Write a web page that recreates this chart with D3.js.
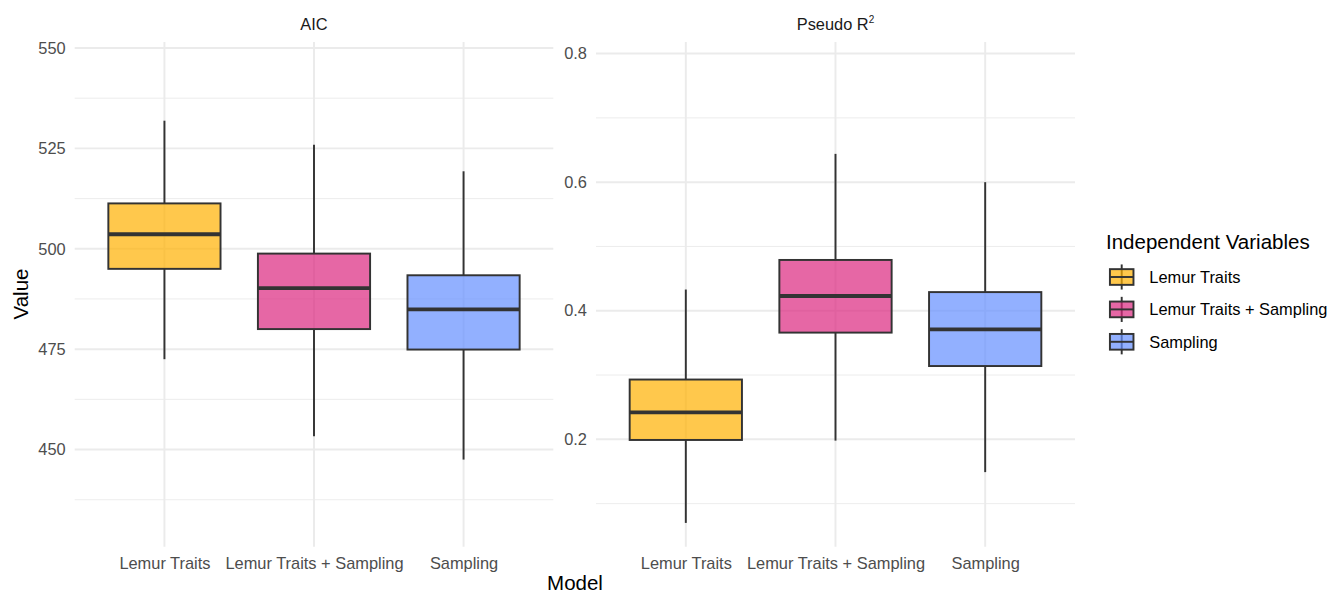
<!DOCTYPE html>
<html>
<head>
<meta charset="utf-8">
<script src="https://cdn.jsdelivr.net/npm/d3@7"></script>
<style>
  body { margin: 0; background: #fff; }
  svg { font-family: "Liberation Sans", Arial, sans-serif; }
</style>
</head>
<body>
<svg id="chart" width="1331" height="593"></svg>
<script>
// models on the x axis (also the legend entries)
const models = ["Lemur Traits", "Lemur Traits + Sampling", "Sampling"];
const fillColors = ["#FFB000", "#DC267F", "#648FFF"];

// AIC panel, box stats per model
const aicLow = [472.5, 453.3, 447.5];
const aicQ1 = [495.0, 480.0, 474.9];
const aicMedian = [503.6, 490.2, 484.9];
const aicQ3 = [511.3, 498.8, 493.4];
const aicHigh = [531.9, 525.9, 519.3];
const aicTicks = [450, 475, 500, 525, 550];
const aicMinor = [437.5, 462.5, 487.5, 512.5, 537.5];
const aicRange = [425.8, 551.5];

// Pseudo R2 panel
const r2Low = [0.070, 0.198, 0.149];
const r2Q1 = [0.199, 0.366, 0.314];
const r2Median = [0.242, 0.423, 0.371];
const r2Q3 = [0.293, 0.479, 0.429];
const r2High = [0.433, 0.644, 0.600];
const r2Ticks = [0.2, 0.4, 0.6, 0.8];
const r2Minor = [0.1, 0.3, 0.5, 0.7];
const r2Range = [0.033, 0.818];

const panelTop = 42, panelBottom = 546.7;
const gridColor = "#EBEBEB";
const lineColor = "#333333";
const smallFont = 16.4, bigFont = 20.5;

const svg = d3.select("#chart");

function makePanel(opts) {
    const g = svg.append("g");
    const x = d3.scalePoint().domain(models).range([opts.left, opts.right]).padding(0.6);
    const y = d3.scaleLinear().domain(opts.range).range([panelBottom, panelTop]);
    const boxW = x.step() * 0.75;

    // grid
    g.selectAll(".minor").data(opts.minor).enter().append("line")
        .attr("x1", opts.left).attr("x2", opts.right)
        .attr("y1", d => y(d)).attr("y2", d => y(d))
        .attr("stroke", gridColor).attr("stroke-width", 0.97);
    g.selectAll(".major").data(opts.ticks).enter().append("line")
        .attr("x1", opts.left).attr("x2", opts.right)
        .attr("y1", d => y(d)).attr("y2", d => y(d))
        .attr("stroke", gridColor).attr("stroke-width", 1.94);
    g.selectAll(".vgrid").data(models).enter().append("line")
        .attr("x1", d => x(d)).attr("x2", d => x(d))
        .attr("y1", panelTop).attr("y2", panelBottom)
        .attr("stroke", gridColor).attr("stroke-width", 1.94);

    // y axis labels
    const yAxis = d3.axisLeft(y).tickValues(opts.ticks).tickSize(0).tickPadding(9)
        .tickFormat(opts.format);
    g.append("g").attr("transform", `translate(${opts.left},0)`).call(yAxis)
        .call(a => a.select(".domain").remove())
        .selectAll("text").attr("font-size", smallFont).attr("fill", "#4D4D4D")
        .attr("font-family", "Liberation Sans, Arial, sans-serif");

    // x axis labels
    const xAxis = d3.axisBottom(x).tickSize(0).tickPadding(10.5);
    g.append("g").attr("transform", `translate(0,${panelBottom})`).call(xAxis)
        .call(a => a.select(".domain").remove())
        .selectAll("text").attr("font-size", smallFont).attr("fill", "#4D4D4D")
        .attr("font-family", "Liberation Sans, Arial, sans-serif");

    // boxes
    const boxes = g.selectAll(".box").data(models).enter().append("g");
    boxes.append("line")
        .attr("x1", d => x(d)).attr("x2", d => x(d))
        .attr("y1", (d, i) => y(opts.high[i])).attr("y2", (d, i) => y(opts.q3[i]))
        .attr("stroke", lineColor).attr("stroke-width", 1.94);
    boxes.append("line")
        .attr("x1", d => x(d)).attr("x2", d => x(d))
        .attr("y1", (d, i) => y(opts.q1[i])).attr("y2", (d, i) => y(opts.low[i]))
        .attr("stroke", lineColor).attr("stroke-width", 1.94);
    boxes.append("rect")
        .attr("x", d => x(d) - boxW / 2).attr("width", boxW)
        .attr("y", (d, i) => y(opts.q3[i]))
        .attr("height", (d, i) => y(opts.q1[i]) - y(opts.q3[i]))
        .attr("fill", (d, i) => fillColors[i]).attr("fill-opacity", 0.7)
        .attr("stroke", lineColor).attr("stroke-width", 1.94);
    boxes.append("line")
        .attr("x1", d => x(d) - boxW / 2).attr("x2", d => x(d) + boxW / 2)
        .attr("y1", (d, i) => y(opts.median[i])).attr("y2", (d, i) => y(opts.median[i]))
        .attr("stroke", lineColor).attr("stroke-width", 3.9);

    // strip title
    const title = g.append("text")
        .attr("x", (opts.left + opts.right) / 2).attr("y", 30)
        .attr("text-anchor", "middle").attr("font-size", smallFont).attr("fill", "#1A1A1A");
    title.append("tspan").text(opts.title);
    if (opts.sup) {
        title.append("tspan").attr("dy", -7).attr("font-size", 10).text(opts.sup);
    }
}

makePanel({
    left: 74.7, right: 553.3, range: aicRange,
    low: aicLow, q1: aicQ1, median: aicMedian, q3: aicQ3, high: aicHigh,
    ticks: aicTicks, minor: aicMinor, format: d3.format("d"), title: "AIC"
});
makePanel({
    left: 596, right: 1075, range: r2Range,
    low: r2Low, q1: r2Q1, median: r2Median, q3: r2Q3, high: r2High,
    ticks: r2Ticks, minor: r2Minor, format: d3.format(".1f"), title: "Pseudo R", sup: "2"
});

// axis titles
svg.append("text").attr("x", 575).attr("y", 590)
    .attr("text-anchor", "middle").attr("font-size", bigFont).attr("fill", "#000")
    .text("Model");
svg.append("text").attr("transform", "translate(28,294) rotate(-90)")
    .attr("text-anchor", "middle").attr("font-size", bigFont).attr("fill", "#000")
    .text("Value");

// legend
const legend = svg.append("g").attr("transform", "translate(1106,0)");
legend.append("text").attr("x", 0).attr("y", 248.5)
    .attr("font-size", bigFont).attr("fill", "#000").text("Independent Variables");

const keySize = 31.4, keyTop = 261.3, keyStep = 32.4;
const keys = legend.selectAll(".key").data(models).enter().append("g")
    .attr("transform", (d, i) => `translate(0,${keyTop + i * keyStep})`);
keys.append("line")
    .attr("x1", keySize / 2).attr("x2", keySize / 2)
    .attr("y1", keySize * 0.1).attr("y2", keySize * 0.9)
    .attr("stroke", lineColor).attr("stroke-width", 1.94);
keys.append("rect")
    .attr("x", keySize * 0.125).attr("width", keySize * 0.75)
    .attr("y", keySize * 0.25).attr("height", keySize * 0.5)
    .attr("fill", (d, i) => fillColors[i]).attr("fill-opacity", 0.7)
    .attr("stroke", lineColor).attr("stroke-width", 1.94);
keys.append("line")
    .attr("x1", keySize * 0.125).attr("x2", keySize * 0.875)
    .attr("y1", keySize / 2).attr("y2", keySize / 2)
    .attr("stroke", lineColor).attr("stroke-width", 1.94);
keys.append("text")
    .attr("x", 43.3).attr("y", keySize / 2 + 6)
    .attr("font-size", smallFont).attr("fill", "#000").text(d => d);
</script>
</body>
</html>
